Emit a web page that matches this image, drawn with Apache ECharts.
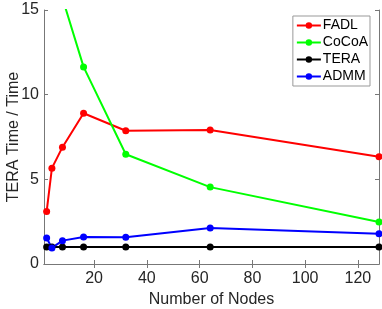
<!DOCTYPE html>
<html><head><meta charset="utf-8">
<script src="https://cdn.jsdelivr.net/npm/echarts@6/dist/echarts.min.js"></script>
<style>html,body{margin:0;padding:0;background:#fff}#c{width:382px;height:309px}</style>
</head><body><div id="c"></div>
<script>
const nodes = [2, 4, 8, 16, 32, 64, 128];
const fadl = [3.1, 5.66, 6.9, 8.9, 7.87, 7.92, 6.34];
const cocoaNodes = [8, 16, 32, 64, 128];
const cocoa = [15.7, 11.64, 6.48, 4.54, 2.48];
const tera = [1, 1, 1, 1, 1, 1, 1];
const admm = [1.54, 0.95, 1.38, 1.6, 1.58, 2.13, 1.78];
const xTicks = [20, 40, 60, 80, 100, 120];
const yTicks = [0, 5, 10, 15];

const pair = (xs, ys) => xs.map((x, i) => [x, ys[i]]);
const axisCol = '#262626';
const font = 'Liberation Sans, Arial, sans-serif';
const chart = echarts.init(document.getElementById('c'));
const mk = (name, data, color) => ({
  name, type: 'line', data, xAxisIndex: 0, yAxisIndex: 0,
  symbol: 'circle', symbolSize: 7, clip: true,
  lineStyle: { color, width: 2 }, itemStyle: { color },
  emphasis: { disabled: true }, animation: false
});
const xBase = {
  type: 'value', min: 1, max: 128,
  axisLine: { show: true, lineStyle: { color: '#777', width: 1 } },
  axisTick: { show: true, inside: true, length: 4, customValues: xTicks, lineStyle: { color: '#777' } },
  splitLine: { show: false }
};
const yBase = {
  type: 'value', min: 0, max: 15, interval: 5,
  axisLine: { show: true, lineStyle: { color: '#777', width: 1 } },
  axisTick: { show: true, inside: true, length: 4, customValues: yTicks, lineStyle: { color: '#777' } },
  splitLine: { show: false }
};
chart.setOption({
  animation: false,
  grid: { left: 44, right: 3, top: 10, bottom: 45, containLabel: false, outerBoundsMode: 'none' },
  xAxis: [
    Object.assign({}, xBase, {
      position: 'bottom',
      name: 'Number of Nodes', nameLocation: 'middle', nameGap: 26,
      nameTextStyle: { color: axisCol, fontSize: 16, fontFamily: font },
      axisLabel: { show: true, customValues: xTicks, color: axisCol, fontSize: 16, fontFamily: font, margin: 7 }
    }),
    Object.assign({}, xBase, { position: 'top', axisLabel: { show: false } })
  ],
  yAxis: [
    Object.assign({}, yBase, {
      position: 'left',
      name: 'TERA Time / Time', nameLocation: 'middle', nameGap: 22, nameMoveOverlap: false,
      nameTextStyle: { color: axisCol, fontSize: 16, fontFamily: font },
      axisLabel: { show: true, customValues: yTicks, color: axisCol, fontSize: 16, fontFamily: font, margin: 5 }
    }),
    Object.assign({}, yBase, { position: 'right', axisLabel: { show: false } })
  ],
  legend: {
    orient: 'vertical', right: 12, top: 16,
    backgroundColor: '#fff', borderColor: '#999', borderWidth: 1,
    padding: [2, 2, 2, 3], itemGap: 2, itemWidth: 24, itemHeight: 8,
    textStyle: { color: '#000', fontSize: 14, lineHeight: 15, fontFamily: font, padding: [0, 0, 0, -3] },
    data: ['FADL', 'CoCoA', 'TERA', 'ADMM']
  },
  series: [
    mk('FADL', pair(nodes, fadl), '#ff0000'),
    mk('CoCoA', pair(cocoaNodes, cocoa), '#00ff00'),
    mk('TERA', pair(nodes, tera), '#000000'),
    mk('ADMM', pair(nodes, admm), '#0000ff')
  ]
});
</script></body></html>
